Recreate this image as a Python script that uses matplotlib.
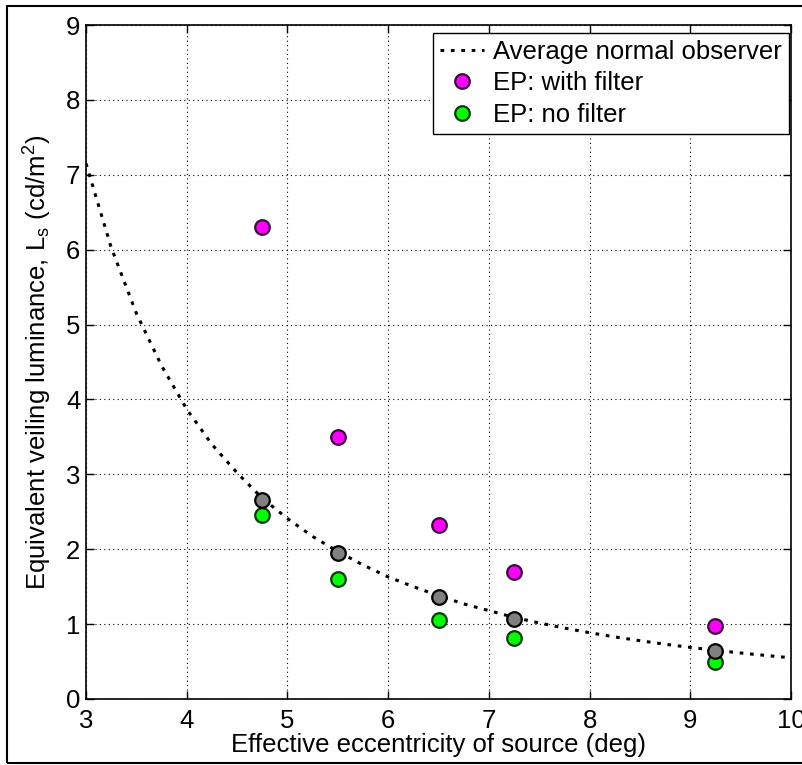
import matplotlib
matplotlib.use("Agg")
import matplotlib.pyplot as plt
from matplotlib.patches import Rectangle

plt.rcParams['font.family'] = ['Liberation Sans', 'DejaVu Sans']
plt.rcParams['mathtext.default'] = 'regular'

# average normal observer curve
curve_x = [3.0, 3.25, 3.5, 3.75, 4.0, 4.25, 4.5, 4.75, 5.0, 5.25, 5.5, 5.75, 6.0,
           6.25, 6.5, 6.75, 7.0, 7.25, 7.5, 7.75, 8.0, 8.25, 8.5, 8.75, 9.0,
           9.25, 9.5, 9.75, 10.0]
curve_y = [7.15, 6.03, 5.15, 4.45, 3.87, 3.40, 3.02, 2.68, 2.41, 2.17, 1.97, 1.79, 1.63,
           1.50, 1.38, 1.27, 1.18, 1.09, 1.015, 0.947, 0.885, 0.829, 0.778, 0.731, 0.689,
           0.65, 0.614, 0.581, 0.55]

ecc = [4.75, 5.5, 6.5, 7.25, 9.25]
with_filter = [6.30, 3.50, 2.32, 1.69, 0.97]
no_filter = [2.46, 1.60, 1.05, 0.82, 0.49]
normal_pts = [2.66, 1.95, 1.36, 1.07, 0.645]

fig = plt.figure(figsize=(8.03, 7.65), dpi=100)
ax = fig.add_axes([0.1071, 0.0863, 0.878, 0.881])

ax.plot(curve_x, curve_y, ls=(0, (1.2, 2.2)), color='black', lw=2.2,
        label='Average normal observer', zorder=3)
ax.plot(ecc, with_filter, 'o', ms=10.5, mfc='#ff00ff', mec='#3a0a3a', mew=1.6,
        label='EP: with filter', zorder=4)
ax.plot(ecc, no_filter, 'o', ms=10.5, mfc='#00ff00', mec='#0a3a0a', mew=1.6,
        label='EP: no filter', zorder=4)
ax.plot(ecc, normal_pts, 'o', ms=10.5, mfc='#808080', mec='black', mew=1.6, zorder=4)

ax.set_xlim(3, 10)
ax.set_ylim(0, 9)
ax.set_xticks(range(3, 11))
ax.set_yticks(range(0, 10))
ax.grid(True, ls=(0, (1, 3)), color='black', lw=0.8)
ax.tick_params(direction='in', top=True, right=True, length=6, width=1,
               labelsize=18.5)
ax.tick_params(axis='x', pad=7)
ax.tick_params(axis='y', pad=4)
for s in ax.spines.values():
    s.set_linewidth(1.2)

ax.set_xlabel('Effective eccentricity of source (deg)', fontsize=18.5, labelpad=0)
ax.set_ylabel('Equivalent veiling luminance, L$_{s}$ (cd/m$^{2}$)', fontsize=18.5, labelpad=9)

leg = ax.legend(loc='upper right', bbox_to_anchor=(0.997, 0.988), borderaxespad=0,
                fontsize=18.5, frameon=True, fancybox=False,
                framealpha=1, edgecolor='black',
                handlelength=1.7, handletextpad=0.35, borderpad=0.28,
                labelspacing=0.28)
leg.get_frame().set_linewidth(1.0)

# border around the whole figure
fig.patches.append(Rectangle((7 / 803, 2 / 765), 1.0, 757 / 765, transform=fig.transFigure,
                             fill=False, edgecolor='black', lw=1.5))

fig.savefig('out.png', dpi=100)
